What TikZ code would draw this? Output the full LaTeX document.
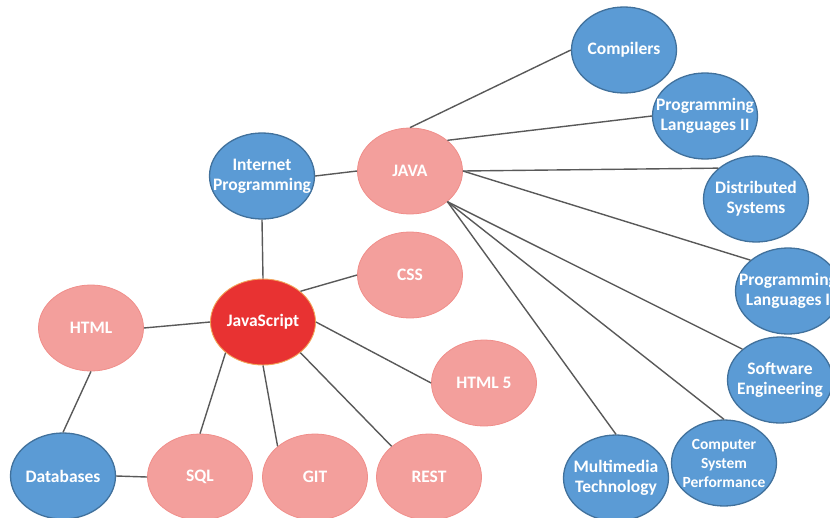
\documentclass[tikz,border=0pt]{standalone}
\usepackage{fontspec}
\setmainfont{Carlito}
\usetikzlibrary{shapes.geometric}

\definecolor{blueFill}{HTML}{5B9BD5}
\definecolor{blueLine}{HTML}{41719C}
\definecolor{pinkFill}{HTML}{F39F9C}
\definecolor{pinkLine}{HTML}{F08E8A}
\definecolor{redFill}{HTML}{E83232}
\definecolor{redLine}{HTML}{F2A65A}
\definecolor{edgeGray}{HTML}{595959}

\tikzset{
  bubble/.style={ellipse, minimum width=105pt, minimum height=86pt, inner sep=0pt},
  caption/.style={text=white, font=\bfseries\fontsize{17.5}{20}\selectfont, align=center, inner sep=0pt},
  smallcaption/.style={text=white, font=\bfseries\fontsize{15.5}{19}\selectfont, align=center, inner sep=0pt},
  topic/.style={bubble, fill=blueFill, draw=blueLine, line width=1.3pt},
  tool/.style={bubble, fill=pinkFill, draw=pinkLine, line width=0.8pt},
  hub/.style={bubble, fill=redFill, draw=redLine, line width=0.9pt},
  link/.style={draw=edgeGray, line width=1.4pt}
}

\begin{document}
\begin{tikzpicture}[x=1pt, y=-1pt]
\useasboundingbox (0,0) rectangle (830,517);

% central hub and its neighbours
\node[hub,  label={[caption]center:JavaScript}] (js) at (263,322) {};
\node[topic, label={[caption]center:Internet\\Programming}] (ip) at (262,176) {};
\node[tool, label={[caption]center:JAVA}] (java) at (410,171) {};
\node[tool, label={[caption]center:CSS}] (css) at (410,275) {};
\node[tool, label={[caption]center:HTML}] (html) at (91,328) {};
\node[tool, label={[caption]center:HTML 5}] (html5) at (484,383) {};
\node[topic, label={[caption]center:Databases}] (db) at (63,476) {};
\node[tool, label={[caption]center:SQL}] (sql) at (200,477) {};
\node[tool, label={[caption]center:GIT}] (git) at (315,477) {};
\node[tool, label={[caption]center:REST}] (rest) at (429,477) {};

% courses that build on Java
\node[topic, label={[caption]center:Compilers}] (comp) at (624,50) {};
\node[topic, label={[caption]center:Programming\\Languages II}] (pl2) at (705,116) {};
\node[topic, label={[caption]center:Distributed\\Systems}] (ds) at (756,199) {};
\node[topic, label={[caption]center:Programming\\Languages I}] (pl1) at (788,291) {};
\node[topic, label={[caption]center:Software\\Engineering}] (se) at (780,380) {};
\node[topic, label={[smallcaption]center:Computer\\System\\Performance}] (csp) at (724,463) {};
\node[topic, label={[caption]center:Multimedia\\Technology}] (mt) at (616,478) {};

% connectors
\draw[link] (ip.east) -- (java.west);
\draw[link] (ip.south) -- (js.north);
\draw[link] (js.north east) -- (css.west);
\draw[link] (js.west) -- (html.east);
\draw[link] (js.east) -- (html5.west);
\draw[link] (js.south west) -- (sql.north);
\draw[link] (js.south) -- (git.north west);
\draw[link] (js.south east) -- (rest.north west);
\draw[link] (html.south) -- (db.north);
\draw[link] (db.east) -- (sql.west);

\draw[link] (java.north) -- (comp.west);
\draw[link] (java.north east) -- (pl2.west);
\draw[link] (java.east) -- (ds.north west);
\draw[link] (java.east) -- (pl1.north west);
\draw[link] (java.south east) -- (se.north west);
\draw[link] (java.south east) -- (csp.north);
\draw[link] (java.south east) -- (mt.north);
\end{tikzpicture}
\end{document}
